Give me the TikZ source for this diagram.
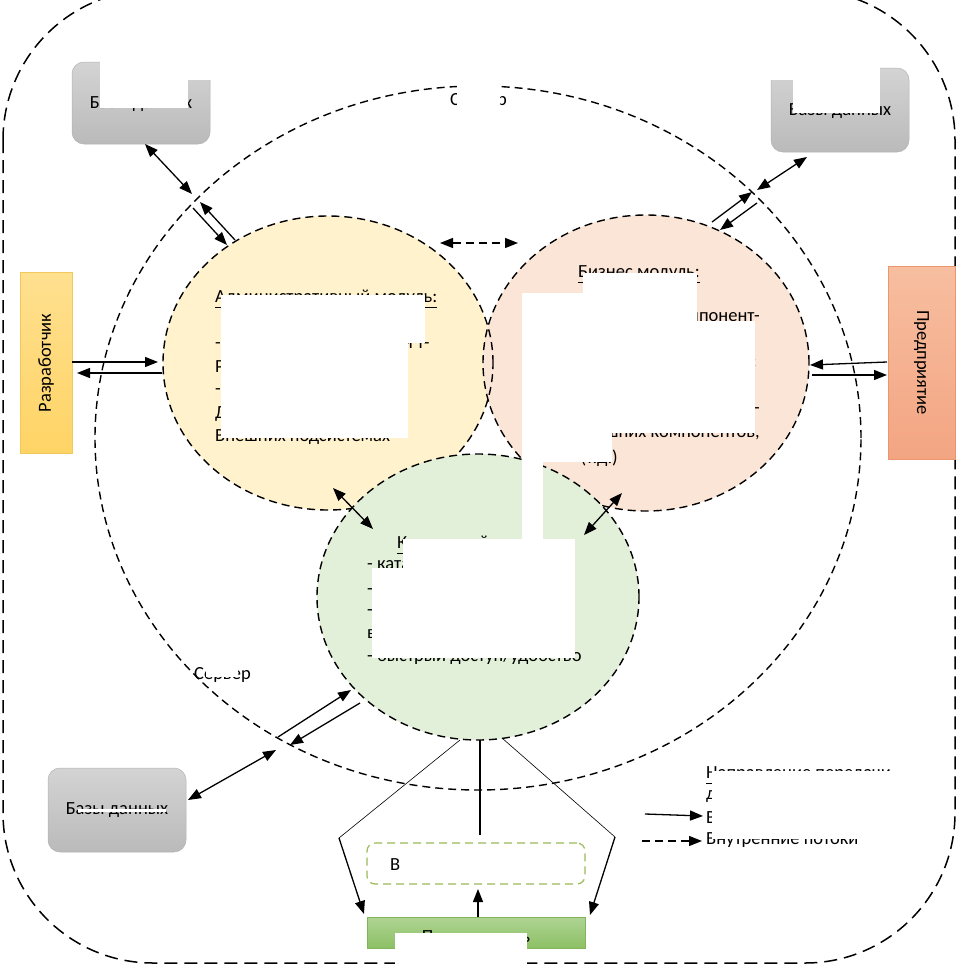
\documentclass[tikz,border=0pt]{standalone}
\usepackage{fontspec}
\setmainfont{Carlito}
\usetikzlibrary{arrows.meta,shapes.geometric}
\definecolor{yelfill}{HTML}{FFF2CC}
\definecolor{orfill}{HTML}{FBE5D6}
\definecolor{grfill}{HTML}{E2F0D9}
\definecolor{webgreen}{HTML}{9BBB59}
\definecolor{devtop}{HTML}{FFE08F}
\definecolor{devbot}{HTML}{FFD466}
\definecolor{devline}{HTML}{F2C75C}
\begin{document}
\begin{tikzpicture}[x=1pt,y=-1pt,
 font=\fontsize{18.5}{22}\selectfont,
 dsh/.style={line width=1.4pt, dash pattern=on 8pt off 5pt},
 outerdsh/.style={line width=1.5pt, dash pattern=on 13pt off 7pt},
 arr/.style={line width=1.3pt, -{Triangle[length=13pt,width=10pt]}},
 darr/.style={line width=1.3pt, {Triangle[length=13pt,width=10pt]}-{Triangle[length=13pt,width=10pt]}},
 thin/.style={line width=0.6pt},
 cover/.style={fill=white, draw=none},
 dbbox/.style={rounded corners=12pt, top color=black!17, bottom color=black!27, draw=black!30, line width=0.5pt, inner sep=0},
 txt/.style={anchor=west, inner sep=0},
 rtxt/.style={anchor=east, inner sep=0},
 circ/.style={ellipse, draw, dsh, inner sep=0},
]
\useasboundingbox (0,0) rectangle (957,967);
\clip (0,0) rectangle (957,967);
\fill[white] (0,0) rectangle (957,967);

% outer frame
\draw[outerdsh, rounded corners=150pt] (3,-10) rectangle (955,963);
% server ellipse
\node[ellipse, draw, dsh, inner sep=0, minimum width=766, minimum height=704] (srv) at (478,438) {};

% circle fills
\fill[yelfill] (328,363) ellipse [x radius=165, y radius=147];
\fill[orfill] (646,363) ellipse [x radius=163, y radius=148];
\node[circ, minimum width=330, minimum height=294] (yel) at (328,363) {};
\node[circ, minimum width=326, minimum height=296] (ora) at (646,363) {};
\node[circ, fill=grfill, minimum width=322, minimum height=286] (gre) at (478,597) {};

% labels Server
\node[txt] (srvtop) at (450,101) {Сервер};
\node[txt] (srvbot) at (194,675) {Сервер};
\fill[cover] (457,78) rectangle (500,110);
\fill[cover] (206,660) rectangle (238,677);

% databases
\node[dbbox, minimum width=138, minimum height=82] (db1) at (141,103) {};
\node (db1t) at (141,104) {Базы данных};
\fill[cover] (100,40) rectangle (216,80);
\fill[cover] (100,80) rectangle (188,108);

\node[dbbox, minimum width=138, minimum height=84] (db2) at (840,110) {};
\node (db2t) at (840,111) {Базы данных};
\fill[cover] (765,55) rectangle (880,80);
\fill[cover] (793,80) rectangle (880,113);

\node[dbbox, minimum width=138, minimum height=84] (db3) at (117,810) {Базы данных};
\fill[cover] (78,809) rectangle (166,812);

% actors
\node[top color=devtop, bottom color=devbot, draw=devline, line width=0.5pt, minimum width=52, minimum height=181, inner sep=0] (dev) at (46,363) {};
\node[rotate=90] (devt) at (dev) {Разработчик};
\node[top color={rgb,255:red,247;green,190;blue,160}, bottom color={rgb,255:red,243;green,165;blue,130}, draw={rgb,255:red,235;green,150;blue,110}, line width=0.5pt, minimum width=67, minimum height=193, inner sep=0] (ent) at (921.5,362.5) {};
\node[rotate=-90] (entt) at (ent) {Предприятие};

% yellow text
\node[txt] (y1) at (215,299) {\underline{Административный модуль:}};
\node[txt] (y3) at (215,344) {- настройка прав и ролей т-};
\node[txt] (y4) at (215,367) {Роли пользователей;};
\node[txt] (y5) at (215,390) {- взаимодействие с};
\node[txt] (y6) at (215,413) {Другими системами (в};
\node[txt] (y7) at (215,437) {Внешних подсистемах};
\fill[cover] (221,295) rectangle (425,343);
\fill[cover] (221,343) rectangle (408,438);

% orange text
\node[txt] (o1) at (578,274) {\underline{Бизнес модуль:}};
\node[rtxt] (o3) at (760,319) {- интеграция компонент-};
\node[rtxt] (o4) at (756,342) {ов и сервисов системы и};
\node[rtxt] (o5) at (756,365) {- процессы и связи с};
\node[rtxt] (o6) at (740,388) {- аналитика и отчёты};
\node[rtxt] (o7) at (760,411) {- управление данными -};
\node[rtxt] (o8) at (760,434) {- внешних компонентов,};
\node[rtxt] (o9) at (618,458) {(т.д.)};
\fill[cover] (583,273) rectangle (697,293);
\fill[cover] (522,293) rectangle (697,433);
\fill[cover] (697,321) rectangle (755,433);
\fill[cover] (522,433) rectangle (612,462);
\fill[cover] (522,433) rectangle (543,540);

% green text
\node[txt] (g1) at (397,545) {\underline{Клиентский модуль:}};
\node[txt] (g2) at (367,566) {- каталог услуг};
\node[txt] (g3) at (367,588) {- личный кабинет};
\node[txt] (g4) at (367,611) {- обратная связь};
\node[txt] (g5) at (367,634) {в системе};
\node[txt] (g6) at (367,657) {- быстрый доступ/удобство};
\fill[cover] (403,539) rectangle (575,568);
\fill[cover] (372,568) rectangle (575,658);

% web interface and user
\node[draw=webgreen, dsh, line width=1.2pt, rounded corners=8pt, minimum width=218, minimum height=41, inner sep=0] (web) at (476,863.5) {};
\node[txt] (webt) at (390,865) {Веб-клиент (браузер)};
\fill[cover] (400,847) rectangle (582,880);
\node[top color={rgb,255:red,175;green,212;blue,148}, bottom color={rgb,255:red,140;green,192;blue,100}, draw={rgb,255:red,130;green,180;blue,90}, line width=0.5pt, minimum width=218, minimum height=31, inner sep=0] (usr) at (476,932.5) {};
\node (usrt) at (476,937) {Пользователь};
\fill[cover] (395,933) rectangle (527,967);

% legend
\node[txt] (l1) at (706,775) {\underline{Направление передачи}};
\node[txt] (l2) at (706,797) {данных:};
\node[txt] (l3) at (706,818) {Внешние потоки};
\node[txt] (l4) at (706,840) {Внутренние потоки};
\fill[cover] (712,771) rectangle (900,839);

% coordinates for connectors
\coordinate (a1s) at (145,144); \coordinate (a1e) at (192,194);
\coordinate (a2s) at (193,208); \coordinate (a2e) at (227,245);
\coordinate (a3s) at (235,240); \coordinate (a3e) at (200,202);
\coordinate (b1s) at (757,190); \coordinate (b1e) at (807,157);
\coordinate (b2s) at (712,222); \coordinate (b2e) at (752,192);
\coordinate (b3s) at (757,203); \coordinate (b3e) at (720,230);
\coordinate (cs) at (440,243); \coordinate (ce) at (518,243);
\coordinate (d1s) at (72,362); \coordinate (d1e) at (158,362);
\coordinate (d2s) at (162,373); \coordinate (d2e) at (77,373);
\coordinate (e1s) at (887,362); \coordinate (e1e) at (810,365);
\coordinate (e2s) at (812,375); \coordinate (e2e) at (887,375);
\coordinate (fs) at (333,488); \coordinate (fe) at (373,529);
\coordinate (gs) at (622,493); \coordinate (ge) at (584,535);
\coordinate (h1s) at (188,800); \coordinate (h1e) at (276,750);
\coordinate (h2s) at (278,737); \coordinate (h2e) at (351,690);
\coordinate (h3s) at (360,703); \coordinate (h3e) at (290,745);
\coordinate (i1) at (460,740); \coordinate (i2) at (339,838); \coordinate (i3) at (364,914);
\coordinate (j1) at (502,738); \coordinate (j2) at (615,837); \coordinate (j3) at (590,915);
\coordinate (k1) at (480,740); \coordinate (k2) at (480,835);
\coordinate (ls) at (478,917); \coordinate (le) at (478,889);
\coordinate (m1s) at (645,814); \coordinate (m1e) at (703,816);
\coordinate (m2s) at (642,841); \coordinate (m2e) at (702,841);

\draw[darr] (a1s) -- (a1e);
\draw[arr] (a2s) -- (a2e);
\draw[arr] (a3s) -- (a3e);
\draw[darr] (b1s) -- (b1e);
\draw[arr] (b2s) -- (b2e);
\draw[arr] (b3s) -- (b3e);
\draw[darr, dash pattern=on 8pt off 5pt] (cs) -- (ce);
\draw[arr] (d1s) -- (d1e);
\draw[arr] (d2s) -- (d2e);
\draw[arr] (e1s) -- (e1e);
\draw[arr] (e2s) -- (e2e);
\draw[darr] (fs) -- (fe);
\draw[darr] (gs) -- (ge);
\draw[darr] (h1s) -- (h1e);
\draw[arr] (h2s) -- (h2e);
\draw[arr] (h3s) -- (h3e);
\draw[thin] (i1) -- (i2);
\draw[arr] (i2) -- (i3);
\draw[thin] (j1) -- (j2);
\draw[arr] (j2) -- (j3);
\draw[line width=1.3pt] (k1) -- (k2);
\draw[arr] (ls) -- (le);
\draw[arr] (m1s) -- (m1e);
\draw[arr, dash pattern=on 8pt off 5pt] (m2s) -- (m2e);
\end{tikzpicture}
\end{document}
